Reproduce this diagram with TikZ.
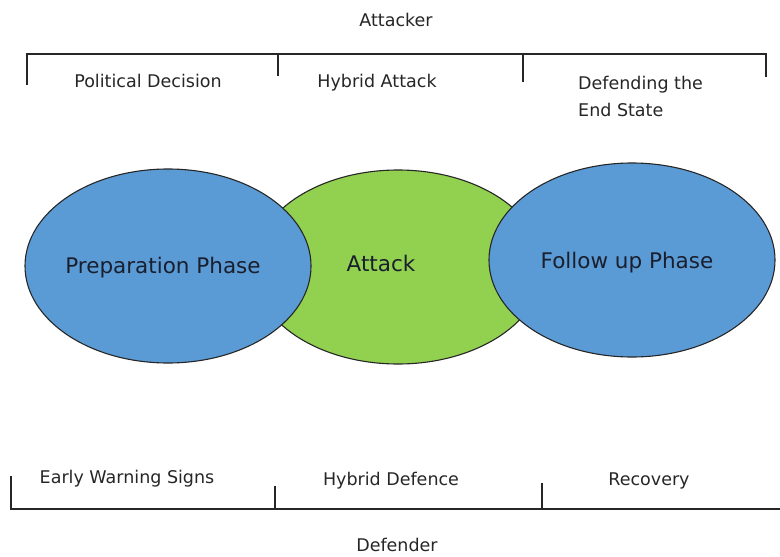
\documentclass[tikz,border=0pt]{standalone}
\usepackage{fontspec}
\setmainfont{DejaVu Sans}
\usetikzlibrary{shapes.geometric}
\definecolor{phaseblue}{HTML}{5B9BD5}
\definecolor{attackgreen}{HTML}{92D050}
\definecolor{inktext}{HTML}{1A1F2E}
\begin{document}
\begin{tikzpicture}[x=1pt,y=-1pt,
  bracket/.style={line width=1.8pt,black!85},
  phase/.style={ellipse,draw=black!85,line width=1.1pt,inner sep=0pt},
  lbl/.style={font=\fontsize{17.5}{20}\selectfont,text=black!85,inner sep=0pt},
  big/.style={font=\fontsize{21.5}{24}\selectfont,text=inktext,inner sep=0pt}]
\useasboundingbox (0,0) rectangle (780,557);
% ellipses
\node[phase,fill=attackgreen,minimum width=290pt,minimum height=194pt] (att) at (398,267) {};
\node[phase,fill=phaseblue,minimum width=286pt,minimum height=194pt] (prep) at (168,266) {};
\node[phase,fill=phaseblue,minimum width=286pt,minimum height=194pt] (foll) at (632,260) {};
\node[big] (tprep) at (163,268) {Preparation Phase};
\node[big] (tatt) at (381,263) {Attack};
\node[big] (tfoll) at (627,263) {Follow up Phase};
% top bracket
\coordinate (t0) at (27,54); \coordinate (t0b) at (27,85);
\coordinate (t1) at (278,54); \coordinate (t1b) at (278,76);
\coordinate (t2) at (523,54); \coordinate (t2b) at (523,82);
\coordinate (t3) at (766,54); \coordinate (t3b) at (766,77);
\draw[bracket] (t0b) -- (t0) -- (t3) -- (t3b);
\draw[bracket] (t1) -- (t1b);
\draw[bracket] (t2) -- (t2b);
% bottom bracket
\coordinate (b0) at (11,509); \coordinate (b0b) at (11,476);
\coordinate (b1) at (275,509); \coordinate (b1b) at (275,486);
\coordinate (b2) at (542,509); \coordinate (b2b) at (542,483);
\coordinate (b3) at (780,509);
\draw[bracket] (b0b) -- (b0) -- (b3);
\draw[bracket] (b1) -- (b1b);
\draw[bracket] (b2) -- (b2b);
% labels
\node[lbl] (attacker) at (396,20) {Attacker};
\node[lbl] (pol) at (148,81) {Political Decision};
\node[lbl] (hya) at (377,83) {Hybrid Attack};
\node[lbl,align=left,anchor=base west] (def) at (578,116) {Defending the\\[7pt]End State};
\node[lbl] (ews) at (127,479) {Early Warning Signs};
\node[lbl] (hyd) at (391,481) {Hybrid Defence};
\node[lbl] (rec) at (649,481) {Recovery};
\node[lbl] (defender) at (397,545) {Defender};
\end{tikzpicture}
\end{document}
